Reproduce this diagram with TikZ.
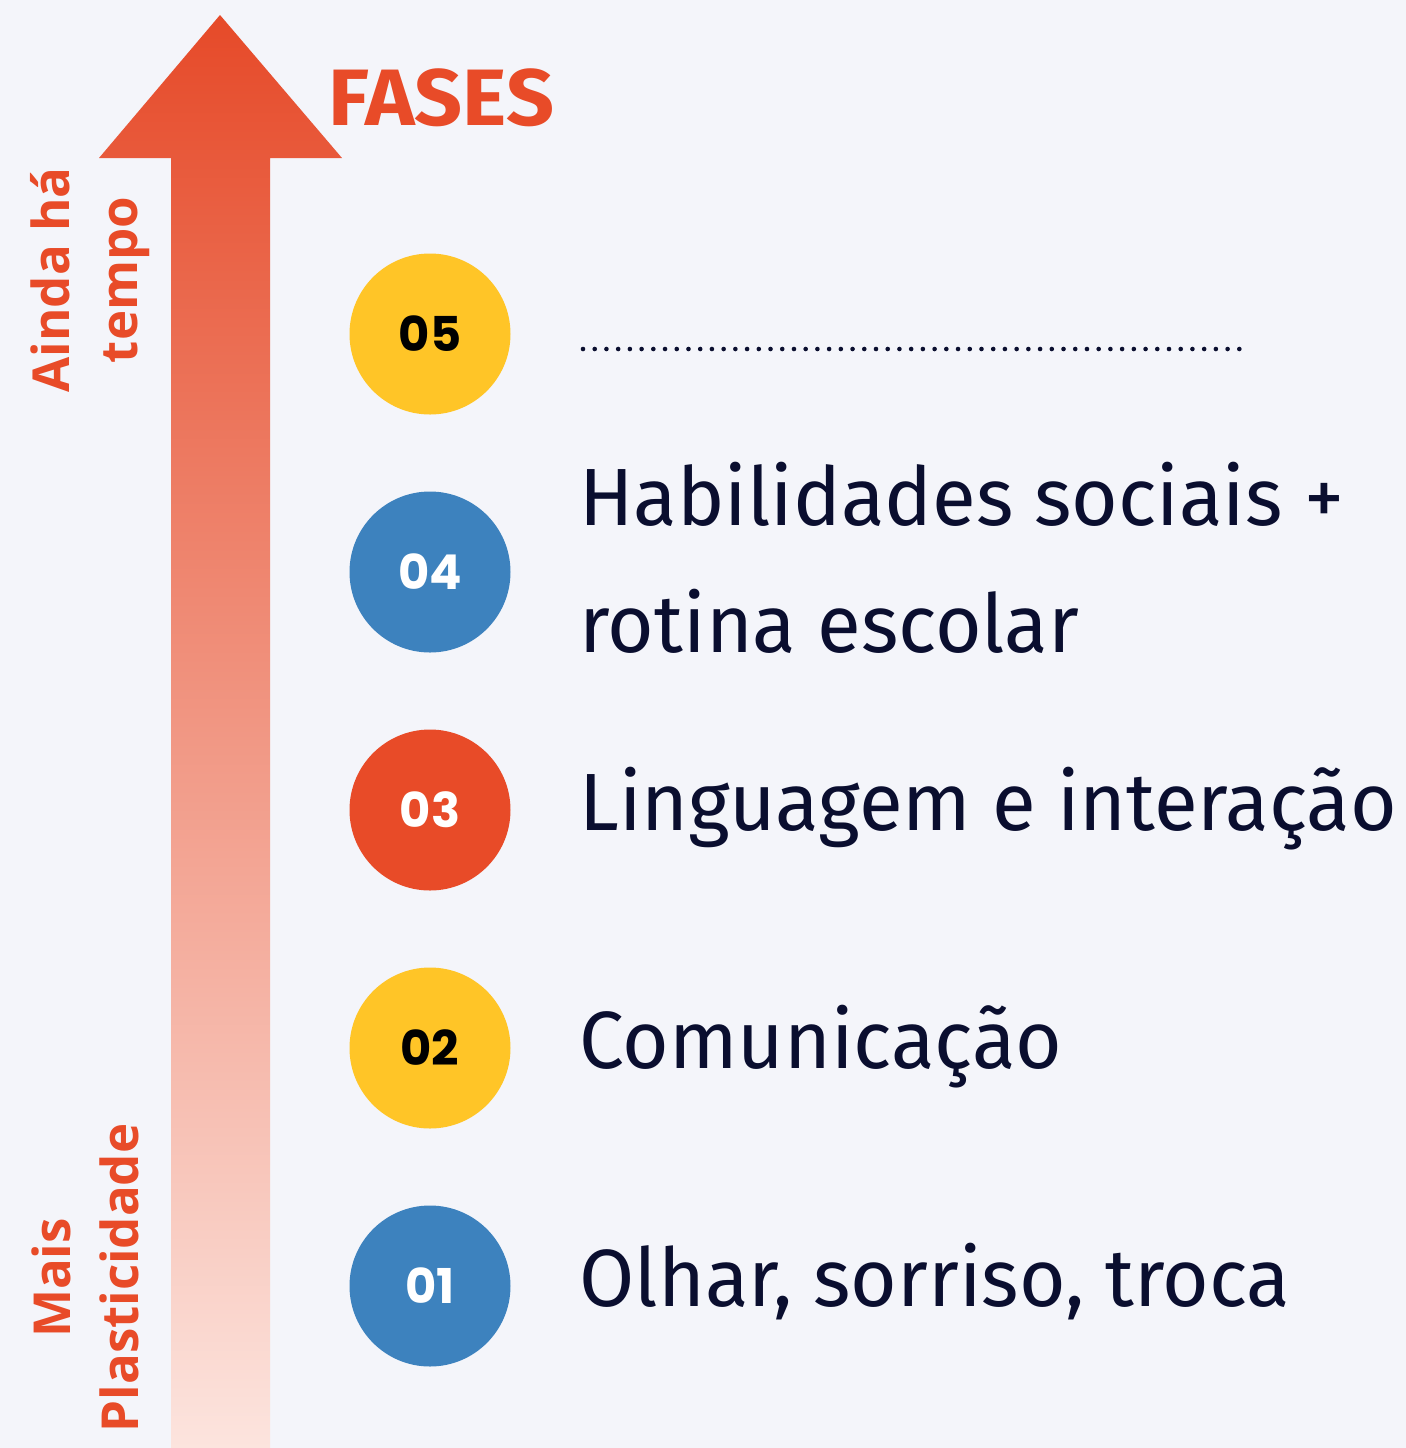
\documentclass[tikz,border=0pt]{standalone}
\usepackage{fontspec}
\setmainfont{Fira Sans}
\newfontfamily\labelfont{Fira Sans}[FakeStretch=0.985]
\newfontfamily\titlefont{Fira Sans}[FakeStretch=1.05]
\newfontfamily\numfont{Poppins}
\newfontfamily\sidefont{Open Sans}
\definecolor{bg}{HTML}{F4F5FA}
\definecolor{navy}{HTML}{0A0E2F}
\definecolor{fred}{HTML}{E84B28}
\definecolor{fyellow}{HTML}{FFC527}
\definecolor{fblue}{HTML}{3D82BE}
\definecolor{arrtop}{HTML}{E64A29}
\definecolor{arrbot}{HTML}{FCE4DE}
\tikzset{
  phase/.style={circle, minimum size=161*0.5pt, inner sep=0pt,
    font=\numfont\bfseries\fontsize{24}{24}\selectfont},
  yel/.style={phase, fill=fyellow, text=black},
  blu/.style={phase, fill=fblue, text=white},
  rd/.style={phase, fill=fred, text=white},
  label/.style={anchor=base west, inner sep=0pt, text=navy,
    font=\labelfont\fontsize{40.6}{48}\selectfont},
  side/.style={rotate=90, align=center, inner sep=0pt, text=fred,
    font=\sidefont\bfseries\fontsize{25.5}{34}\selectfont},
}
\begin{document}
\begin{tikzpicture}[x=0.5pt, y=-0.5pt]
\useasboundingbox (0,0) rectangle (1406,1448);
\fill[bg] (0,0) rectangle (1406,1448);
% arrow
\shade[top color=arrtop, bottom color=arrbot]
  (220,15) -- (342,158) -- (270,158) -- (270,1448) -- (171,1448)
  -- (171,158) -- (99,158) -- cycle;
\node[anchor=base west, inner sep=0pt, text=fred,
  font=\titlefont\bfseries\fontsize{40}{40}\selectfont] (fases) at (328,125) {FASES};
% side labels
\node[side] (ainda) at (90,280) {Ainda há\\tempo};
\node[side] (mais) at (85,1278) {Mais\\Plasticidade};
% circles
\node[yel] (c5) at (430,334) {05};
\node[blu] (c4) at (430,572) {04};
\node[rd]  (c3) at (430,810) {03};
\node[yel] (c2) at (430,1048) {02};
\node[blu] (c1) at (430,1286) {01};
% texts
\coordinate (d1) at (583,349);
\coordinate (d2) at (1247,349);
\draw[navy, line width=2.3pt, line cap=round, dash pattern=on 0pt off 5.86pt] (d1) -- (d2);
\node[label] (t4a) at (579,525) {Habilidades sociais +};
\node[label] (t4b) at (579,652) {rotina escolar};
\node[label] (t3) at (579,830) {Linguagem e interação};
\node[label] (t2) at (579,1068) {Comunicação};
\node[label] (t1) at (579,1306) {Olhar, sorriso, troca};
\end{tikzpicture}
\end{document}
